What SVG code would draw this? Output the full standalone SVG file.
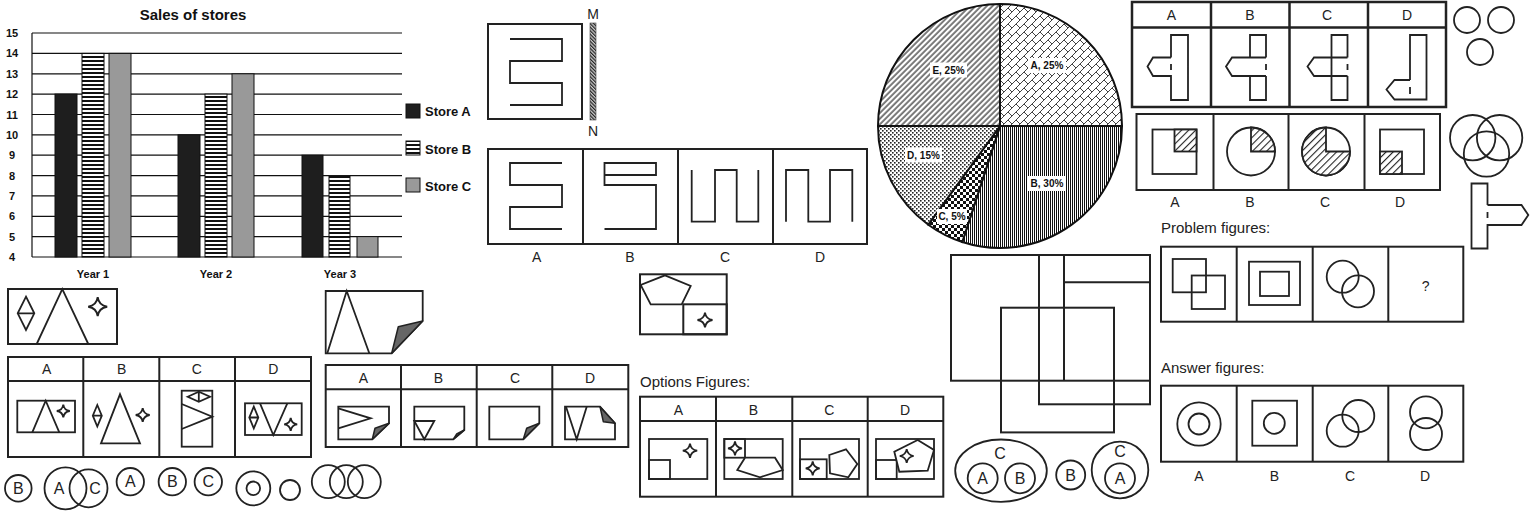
<svg xmlns="http://www.w3.org/2000/svg" width="1530" height="512" viewBox="0 0 1530 512">
<defs>
<style>
.ln{fill:none;stroke:#222;stroke-width:1.8;stroke-linejoin:miter}
.lw{fill:#fff;stroke:#222;stroke-width:1.8}
.bx{fill:none;stroke:#222;stroke-width:2}
.t{font-family:"Liberation Sans",Arial,sans-serif;fill:#222;text-anchor:middle;font-size:14px}
.tl{font-family:"Liberation Sans",Arial,sans-serif;fill:#222;font-size:15px}
.cl{font-family:"Liberation Sans",Arial,sans-serif;fill:#222;text-anchor:middle;font-size:16px}
.cb{font-family:"Liberation Sans",Arial,sans-serif;font-weight:bold;fill:#111}
.ax{font-family:"Liberation Sans",Arial,sans-serif;font-weight:bold;fill:#111;font-size:11px;text-anchor:middle}
.pl{font-family:"Liberation Sans",Arial,sans-serif;font-weight:bold;fill:#111;font-size:10px;text-anchor:middle}
.grid line{stroke:#111;stroke-width:1.2}
.fold{fill:#666;stroke:#222;stroke-width:1.5;stroke-linejoin:round}
</style>
<pattern id="hstripe" width="4" height="4" patternUnits="userSpaceOnUse"><rect width="4" height="4" fill="#fff"/><rect width="4" height="2" fill="#111"/></pattern>
<pattern id="pA" width="8" height="8" patternUnits="userSpaceOnUse"><rect width="8" height="8" fill="#fff"/><path d="M0,8 L8,0 M0,0 L4,4" stroke="#111" stroke-width="0.8"/></pattern>
<pattern id="pB" width="2" height="4" patternUnits="userSpaceOnUse"><rect width="2" height="4" fill="#fff"/><rect width="1" height="4" fill="#111"/></pattern>
<pattern id="pC" width="6" height="6" patternUnits="userSpaceOnUse"><rect width="6" height="6" fill="#fff"/><rect width="3" height="3" fill="#111"/><rect x="3" y="3" width="3" height="3" fill="#111"/></pattern>
<pattern id="pD" width="4" height="4" patternUnits="userSpaceOnUse"><rect width="4" height="4" fill="#fff"/><rect width="1.6" height="1.6" fill="#222"/><rect x="2" y="2" width="1.6" height="1.6" fill="#222"/></pattern>
<pattern id="pE" width="4" height="4" patternUnits="userSpaceOnUse" patternTransform="rotate(45)"><rect width="4" height="4" fill="#fff"/><rect x="1.5" width="1.1" height="4" fill="#111"/></pattern>
<pattern id="pM" width="2.5" height="2.5" patternUnits="userSpaceOnUse" patternTransform="rotate(-45)"><rect width="2.5" height="2.5" fill="#ccc"/><rect width="1.2" height="2.5" fill="#222"/></pattern>
<pattern id="hatch" width="5" height="5" patternUnits="userSpaceOnUse" patternTransform="rotate(45)"><rect width="5" height="5" fill="#fff"/><rect x="2" width="1.1" height="5" fill="#222"/></pattern>
<path id="star" d="M0,-10 Q1.2,-1.2 10,0 Q1.2,1.2 0,10 Q-1.2,1.2 -10,0 Q-1.2,-1.2 0,-10Z" fill="#fff" stroke="#222"/>
</defs>
<rect width="1530" height="512" fill="#fff"/>

<!-- Bar chart -->
<g id="bar-chart">
<text class="cb" x="193" y="20" font-size="15" text-anchor="middle">Sales of stores</text>
<g class="grid">
<line x1="32" y1="33" x2="402" y2="33"/>
<line x1="32" y1="53.4" x2="402" y2="53.4"/>
<line x1="32" y1="73.8" x2="402" y2="73.8"/>
<line x1="32" y1="94.1" x2="402" y2="94.1"/>
<line x1="32" y1="114.5" x2="402" y2="114.5"/>
<line x1="32" y1="134.8" x2="402" y2="134.8"/>
<line x1="32" y1="155.2" x2="402" y2="155.2"/>
<line x1="32" y1="175.6" x2="402" y2="175.6"/>
<line x1="32" y1="195.9" x2="402" y2="195.9"/>
<line x1="32" y1="216.3" x2="402" y2="216.3"/>
<line x1="32" y1="236.6" x2="402" y2="236.6"/>
<line x1="32" y1="257" x2="402" y2="257"/>
<line x1="32" y1="33" x2="32" y2="257"/>
</g>
<g>
<text class="ax" x="12" y="37">15</text>
<text class="ax" x="12" y="57.4">14</text>
<text class="ax" x="12" y="77.8">13</text>
<text class="ax" x="12" y="98.1">12</text>
<text class="ax" x="12" y="118.5">11</text>
<text class="ax" x="12" y="138.8">10</text>
<text class="ax" x="12" y="159.2">9</text>
<text class="ax" x="12" y="179.6">8</text>
<text class="ax" x="12" y="199.9">7</text>
<text class="ax" x="12" y="220.3">6</text>
<text class="ax" x="12" y="240.6">5</text>
<text class="ax" x="12" y="261">4</text>
</g>
<g stroke="#111" stroke-width="1">
<rect x="55" y="94.1" width="22" height="162.9" fill="#1e1e1e"/>
<rect x="82" y="53.4" width="22" height="203.6" fill="url(#hstripe)"/>
<rect x="109" y="53.4" width="22" height="203.6" fill="#999"/>
<rect x="178" y="134.8" width="22" height="122.2" fill="#1e1e1e"/>
<rect x="205" y="94.1" width="22" height="162.9" fill="url(#hstripe)"/>
<rect x="232" y="73.8" width="22" height="183.2" fill="#999"/>
<rect x="302" y="155.2" width="21" height="101.8" fill="#1e1e1e"/>
<rect x="329" y="175.6" width="21" height="81.4" fill="url(#hstripe)"/>
<rect x="357" y="236.6" width="21" height="20.4" fill="#999"/>
</g>
<text class="ax" x="93" y="278">Year 1</text>
<text class="ax" x="216" y="278">Year 2</text>
<text class="ax" x="340" y="278">Year 3</text>
<g id="legend">
<rect x="406" y="104" width="14" height="14" fill="#1e1e1e" stroke="#111"/>
<rect x="406" y="141" width="14" height="14" fill="url(#hstripe)" stroke="#111"/>
<rect x="406" y="178" width="14" height="14" fill="#999" stroke="#111"/>
<text class="cb" x="425" y="116" font-size="13">Store A</text>
<text class="cb" x="425" y="153.5" font-size="13">Store B</text>
<text class="cb" x="425" y="190.5" font-size="13">Store C</text>
</g>
</g>

<!-- Mirror figure -->
<g id="mirror-question">
<rect x="488" y="24" width="94" height="95" class="bx"/>
<polyline class="ln" points="510,39 562,39 562,61 510,61 510,83 562,83 562,105 510,105"/>
<rect x="590" y="23" width="6" height="97" fill="url(#pM)" stroke="#444" stroke-width="0.6"/>
<text class="t" x="593" y="19">M</text>
<text class="t" x="593" y="136">N</text>
</g>
<g id="mirror-options">
<rect x="488" y="149" width="379" height="95" class="bx"/>
<line x1="583" y1="149" x2="583" y2="244" class="bx"/>
<line x1="678" y1="149" x2="678" y2="244" class="bx"/>
<line x1="773" y1="149" x2="773" y2="244" class="bx"/>
<polyline class="ln" points="562,163 510,163 510,185 562,185 562,207 510,207 510,229 562,229"/>
<polyline class="ln" points="604.5,175 656,175 656,163 604.5,163 604.5,185 656,185 656,229 604.5,229"/>
<polyline class="ln" points="691.7,170 691.7,221.7 715,221.7 715,170 736.7,170 736.7,221.7 758.3,221.7 758.3,170"/>
<polyline class="ln" points="786,221.7 786,170 808.3,170 808.3,221.7 830,221.7 830,170 852.3,170 852.3,221.7"/>
<text class="t" x="536.7" y="262">A</text>
<text class="t" x="630" y="262">B</text>
<text class="t" x="725" y="262">C</text>
<text class="t" x="820" y="262">D</text>
</g>
<g id="pentagon-question">
<rect x="640" y="274.3" width="86.7" height="60" class="bx"/>
<rect x="683.3" y="304.3" width="43.4" height="30" class="bx"/>
<polygon class="ln" points="665,275.3 690.7,286 681.7,304.3 650.7,304.3 640.7,285"/>
<use href="#star" transform="translate(705,320) scale(0.75)" stroke-width="2.4"/>
</g>

<!-- Pie chart -->
<g id="pie-chart" stroke="#111" stroke-width="2">
<path d="M1000,126 L1000,4 A122,122 0 0 1 1122,126 Z" fill="url(#pA)"/>
<path d="M1000,126 L1122,126 A122,122 0 0 1 962.3,242 Z" fill="url(#pB)"/>
<path d="M1000,126 L962.3,242 A122,122 0 0 1 928.3,224.7 Z" fill="url(#pC)"/>
<path d="M1000,126 L928.3,224.7 A122,122 0 0 1 878,126 Z" fill="url(#pD)"/>
<path d="M1000,126 L878,126 A122,122 0 0 1 1000,4 Z" fill="url(#pE)"/>
</g>
<g id="pie-labels">
<rect x="1028" y="58" width="38" height="15" fill="#fff"/>
<text class="pl" x="1047" y="69.3">A, 25%</text>
<rect x="930" y="62.5" width="37" height="15" fill="#fff"/>
<text class="pl" x="948.5" y="73.8">E, 25%</text>
<rect x="905" y="147.5" width="37" height="15" fill="#fff"/>
<text class="pl" x="923.5" y="158.8">D, 15%</text>
<rect x="1028" y="176" width="38" height="15" fill="#fff"/>
<text class="pl" x="1047" y="187.3">B, 30%</text>
<rect x="937" y="209" width="30" height="15" fill="#fff"/>
<text class="pl" x="952" y="220.3">C, 5%</text>
</g>

<!-- T figures -->
<g id="t-options">
<rect x="1132" y="2" width="314" height="105" fill="none" stroke="#222" stroke-width="2.5"/>
<line x1="1132" y1="27.5" x2="1446" y2="27.5" stroke="#222" stroke-width="2.5"/>
<line x1="1211" y1="2" x2="1211" y2="107" stroke="#222" stroke-width="2.5"/>
<line x1="1289.5" y1="2" x2="1289.5" y2="107" stroke="#222" stroke-width="2.5"/>
<line x1="1368" y1="2" x2="1368" y2="107" stroke="#222" stroke-width="2.5"/>
<text class="t" x="1171.5" y="20">A</text>
<text class="t" x="1250" y="20">B</text>
<text class="t" x="1327" y="20">C</text>
<text class="t" x="1407" y="20">D</text>
<path class="ln" d="M1171,57.5 L1171,35 L1188,35 L1188,100 L1171,100 L1171,76 L1153,76 L1147.5,66.5 L1153,57.5 L1171,57.5 M1171,64 L1171,70"/>
<path class="ln" d="M1250,57.5 L1250,35 L1266,35 L1266,57.5 M1266,76 L1266,100 L1250,100 L1250,76 M1266,57.5 L1232,57.5 L1226,66.5 L1232,76 L1266,76 M1266,64 L1266,70"/>
<path class="ln" d="M1347.5,57.5 L1347.5,35 L1331.5,35 L1331.5,100 L1347.5,100 L1347.5,76 M1347.5,57.5 L1314,57.5 L1307.5,66.5 L1314,76 L1347.5,76 M1347.5,64 L1347.5,70"/>
<path class="ln" d="M1410,80 L1410,35 L1426.5,35 L1426.5,99.5 L1394.5,99.5 L1386.5,89.5 L1394.5,80 L1410,80 M1410,87 L1410,94"/>
</g>
<g id="three-circles" class="ln">
<circle cx="1467" cy="20" r="13"/>
<circle cx="1501" cy="20" r="13"/>
<circle cx="1480" cy="52" r="13"/>
</g>
<g id="shaded-options">
<rect x="1136.5" y="114" width="303.5" height="76" class="bx"/>
<line x1="1213.5" y1="114" x2="1213.5" y2="190" class="bx"/>
<line x1="1288.5" y1="114" x2="1288.5" y2="190" class="bx"/>
<line x1="1364.5" y1="114" x2="1364.5" y2="190" class="bx"/>
<rect x="1152.5" y="129.5" width="44" height="44.5" class="ln"/>
<rect x="1174.5" y="129.5" width="22" height="22" fill="url(#hatch)" stroke="#222" stroke-width="1.8"/>
<circle cx="1251" cy="151.5" r="24" class="ln"/>
<path d="M1251,151.5 L1251,127.5 A24,24 0 0 1 1275,151.5 Z" fill="url(#hatch)" stroke="#222" stroke-width="1.8"/>
<circle cx="1326" cy="151.5" r="24" class="ln"/>
<path d="M1326,151.5 L1350,151.5 A24,24 0 1 1 1326,127.5 Z" fill="url(#hatch)" stroke="#222" stroke-width="1.8"/>
<rect x="1380" y="129.5" width="44" height="44.5" class="ln"/>
<rect x="1380" y="151.5" width="22" height="22.5" fill="url(#hatch)" stroke="#222" stroke-width="1.8"/>
<text class="t" x="1175" y="207">A</text>
<text class="t" x="1250" y="207">B</text>
<text class="t" x="1325" y="207">C</text>
<text class="t" x="1400" y="207">D</text>
</g>
<g id="venn" class="ln">
<circle cx="1472.7" cy="137.7" r="22.7"/>
<circle cx="1499.6" cy="137.7" r="22.7"/>
<circle cx="1486.5" cy="154" r="22.7"/>
</g>
<g id="t-right">
<path class="ln" d="M1487.5,205 L1487.5,183.5 L1471.5,183.5 L1471.5,248.5 L1487.5,248.5 L1487.5,225 L1521.5,225 L1528.3,215 L1521.5,205 L1487.5,205 M1487.5,212 L1487.5,218"/>
</g>

<!-- Problem / Answer figures -->
<g id="problem-figures">
<text class="tl" x="1161" y="233">Problem figures:</text>
<rect x="1161" y="246.7" width="302.3" height="75" class="bx"/>
<line x1="1236.7" y1="246.7" x2="1236.7" y2="321.7" class="bx"/>
<line x1="1312.7" y1="246.7" x2="1312.7" y2="321.7" class="bx"/>
<line x1="1388.3" y1="246.7" x2="1388.3" y2="321.7" class="bx"/>
<rect x="1172.7" y="259" width="33.3" height="33.3" class="ln"/>
<rect x="1191.7" y="275.5" width="33.3" height="33.5" class="ln"/>
<rect x="1249" y="261.7" width="51" height="43.3" class="ln"/>
<rect x="1260" y="271.7" width="29" height="24.3" class="ln"/>
<circle cx="1342.7" cy="276.7" r="16" class="ln"/>
<circle cx="1358" cy="291.3" r="16" class="ln"/>
<text class="t" x="1425.7" y="290.7">?</text>
</g>
<g id="answer-figures">
<text class="tl" x="1161" y="373">Answer figures:</text>
<rect x="1161" y="385.7" width="302.3" height="76" class="bx"/>
<line x1="1236.7" y1="385.7" x2="1236.7" y2="461.7" class="bx"/>
<line x1="1312.7" y1="385.7" x2="1312.7" y2="461.7" class="bx"/>
<line x1="1388.3" y1="385.7" x2="1388.3" y2="461.7" class="bx"/>
<circle cx="1199" cy="424" r="21.7" class="ln"/>
<circle cx="1199" cy="424" r="10.5" class="ln"/>
<rect x="1252.3" y="400.7" width="44.7" height="45" class="ln"/>
<circle cx="1274.3" cy="423.3" r="10.5" class="ln"/>
<circle cx="1358.3" cy="416" r="16" class="ln"/>
<circle cx="1342.7" cy="430.7" r="16" class="ln"/>
<circle cx="1426" cy="412.3" r="16" class="ln"/>
<circle cx="1426" cy="434" r="16" class="ln"/>
<text class="t" x="1199" y="480.7">A</text>
<text class="t" x="1274.3" y="480.7">B</text>
<text class="t" x="1350" y="480.7">C</text>
<text class="t" x="1425" y="480.7">D</text>
</g>

<!-- Overlapping squares -->
<g id="squares-figure" class="bx">
<rect x="951" y="255" width="199" height="125.7"/>
<rect x="1039" y="255" width="111" height="149.3"/>
<line x1="1064" y1="255" x2="1064" y2="380.7"/>
<line x1="1064" y1="282.3" x2="1150" y2="282.3"/>
<rect x="1001" y="307.7" width="113" height="124.7"/>
</g>

<!-- Set diagrams -->
<g id="set-ellipse">
<ellipse cx="1001" cy="470.7" rx="45.8" ry="31.2" class="ln"/>
<text class="cl" x="1000" y="459">C</text>
<circle cx="982.7" cy="478.3" r="15" class="ln"/>
<text class="cl" x="982.7" y="484">A</text>
<circle cx="1020" cy="478.3" r="15" class="ln"/>
<text class="cl" x="1020" y="484">B</text>
</g>
<g id="set-b">
<circle cx="1070.7" cy="475" r="14.5" class="ln"/>
<text class="cl" x="1070.7" y="480.7">B</text>
</g>
<g id="set-ca">
<circle cx="1120" cy="470" r="28.3" class="ln"/>
<text class="cl" x="1120" y="456.7">C</text>
<circle cx="1120" cy="478.3" r="15" class="ln"/>
<text class="cl" x="1120" y="484">A</text>
</g>

<!-- Options Figures -->
<g id="options-figures">
<text class="tl" x="640" y="386.5">Options Figures:</text>
<rect x="640" y="396.7" width="303.3" height="100" class="bx"/>
<line x1="640" y1="421" x2="943.3" y2="421" class="bx"/>
<line x1="716" y1="396.7" x2="716" y2="496.7" class="bx"/>
<line x1="792.3" y1="396.7" x2="792.3" y2="496.7" class="bx"/>
<line x1="867.7" y1="396.7" x2="867.7" y2="496.7" class="bx"/>
<text class="t" x="678.3" y="415">A</text>
<text class="t" x="753.3" y="415">B</text>
<text class="t" x="829.3" y="415">C</text>
<text class="t" x="905" y="415">D</text>
<rect x="649" y="439" width="58.3" height="40" class="ln"/>
<rect x="649" y="460" width="21" height="19" class="ln"/>
<use href="#star" transform="translate(690,450.7) scale(0.72)" stroke-width="2.5"/>
<rect x="724.3" y="439" width="58.4" height="40" class="ln"/>
<rect x="724.3" y="439" width="20.7" height="18.7" class="ln"/>
<use href="#star" transform="translate(735,448.3) scale(0.7)" stroke-width="2.5"/>
<polygon class="lw" points="745,457.7 775,457.7 782.7,470 760,477.3 737.3,470"/>
<rect x="800" y="439" width="59" height="40" class="ln"/>
<rect x="800" y="459.3" width="26.7" height="19.7" class="ln"/>
<use href="#star" transform="translate(812.7,468.3) scale(0.7)" stroke-width="2.5"/>
<polygon class="lw" points="829.3,455 846,449.3 857.3,464 848.3,477.3 830,473.3"/>
<rect x="876" y="439" width="58" height="40" class="ln"/>
<rect x="876" y="460" width="20.7" height="19" class="ln"/>
<polygon class="lw" points="917.7,440 934,450 927.7,470.7 899.3,471.7 894.3,451.7"/>
<use href="#star" transform="translate(906.7,456) scale(0.7)" stroke-width="2.5"/>
</g>

<!-- Embedded figure question -->
<g id="embedded-question">
<rect x="8" y="289" width="109" height="55" class="bx"/>
<path class="ln" d="M26,296.7 L34.3,313.3 L26,330 L17.7,313.3 Z M17.7,313.3 L34.3,313.3"/>
<polyline class="ln" points="36.7,344 62.3,289 88.3,344"/>
<use href="#star" transform="translate(97.7,306.7) scale(0.95)" stroke-width="2"/>
</g>
<g id="embedded-options">
<rect x="8" y="357" width="303" height="100" class="bx"/>
<line x1="8" y1="381" x2="311" y2="381" class="bx"/>
<line x1="83.3" y1="357" x2="83.3" y2="457" class="bx"/>
<line x1="159.3" y1="357" x2="159.3" y2="457" class="bx"/>
<line x1="235" y1="357" x2="235" y2="457" class="bx"/>
<text class="t" x="46.7" y="374.3">A</text>
<text class="t" x="121.7" y="374.3">B</text>
<text class="t" x="196.7" y="374.3">C</text>
<text class="t" x="273.3" y="374.3">D</text>
<rect x="17.3" y="400.7" width="57.7" height="31.6" class="ln"/>
<polyline class="ln" points="32.3,432.3 45.7,400.7 59.3,432.3"/>
<use href="#star" transform="translate(63.3,411) scale(0.65)" stroke-width="2.8"/>
<path class="ln" d="M97.3,405 L101.8,415.7 L97.3,426.5 L92.8,415.7 Z M92.8,415.7 L101.8,415.7"/>
<polygon class="ln" points="101,443.3 120,394.3 140,443.3"/>
<use href="#star" transform="translate(142.7,415) scale(0.7)" stroke-width="2.6"/>
<rect x="181.7" y="390.7" width="30.6" height="56" class="ln"/>
<path class="ln" d="M187.7,396.7 L198.8,391.7 L210,396.7 L198.8,401.7 Z M198.8,391.7 L198.8,401.7"/>
<polyline class="ln" points="181.7,404 212.3,416.7 181.7,429"/>
<rect x="245" y="403.3" width="56.7" height="31.7" class="ln"/>
<path class="ln" d="M253.8,406.7 L258.3,417.5 L253.8,428.3 L249.3,417.5 Z M249.3,417.5 L258.3,417.5"/>
<polyline class="ln" points="260,403.3 273.3,435 287.3,403.3"/>
<use href="#star" transform="translate(290.7,424.3) scale(0.65)" stroke-width="2.8"/>
</g>

<!-- Circles row -->
<g id="circles-row">
<circle cx="18.3" cy="488.3" r="13.3" class="ln"/>
<text class="cl" x="18.3" y="494">B</text>
<circle cx="65.5" cy="488.3" r="21" class="ln"/>
<circle cx="88.5" cy="488.3" r="19" class="ln"/>
<text class="cl" x="59" y="494">A</text>
<text class="cl" x="95" y="494">C</text>
<circle cx="130.3" cy="481.7" r="13.7" class="ln"/>
<text class="cl" x="130.3" y="487.4">A</text>
<circle cx="172.3" cy="481.7" r="13.7" class="ln"/>
<text class="cl" x="172.3" y="487.4">B</text>
<circle cx="208.3" cy="481.7" r="13.7" class="ln"/>
<text class="cl" x="208.3" y="487.4">C</text>
<circle cx="253.3" cy="488.3" r="17" class="ln"/>
<circle cx="253.3" cy="488.3" r="6.8" class="ln"/>
<circle cx="290" cy="490" r="10" class="ln"/>
<circle cx="328.3" cy="481.7" r="16.5" class="ln"/>
<circle cx="346.3" cy="481.7" r="16.5" class="ln"/>
<circle cx="364.3" cy="481.7" r="16.5" class="ln"/>
</g>

<!-- Folded paper -->
<g id="paper-question">
<polygon class="lw" points="325.7,291 422.7,291 422.7,321 391.7,353.3 325.7,353.3"/>
<polygon class="fold" points="391.7,353.3 398.3,326.7 422.7,321"/>
<polyline class="ln" points="327.3,353.3 346.7,291 369.3,353.3"/>
</g>
<g id="paper-options">
<rect x="325.7" y="365" width="302.6" height="82" class="bx"/>
<line x1="325.7" y1="389.3" x2="628.3" y2="389.3" class="bx"/>
<line x1="401" y1="365" x2="401" y2="447" class="bx"/>
<line x1="476.7" y1="365" x2="476.7" y2="447" class="bx"/>
<line x1="552.3" y1="365" x2="552.3" y2="447" class="bx"/>
<text class="t" x="363.3" y="382.7">A</text>
<text class="t" x="438.3" y="382.7">B</text>
<text class="t" x="515" y="382.7">C</text>
<text class="t" x="590" y="382.7">D</text>
<polygon class="lw" points="338.3,406.7 389,406.7 389,423.3 372.3,439.3 338.3,439.3"/>
<polygon class="fold" points="372.3,439.3 375,428.3 389,423.3"/>
<polyline class="ln" points="338.3,408.3 370.7,418.3 338.3,428.3"/>
<polygon class="lw" points="414.3,406.7 464.3,406.7 464.3,430 453.3,439.3 414.3,439.3"/>
<polygon class="fold" points="453.3,439.3 456.7,434 464.3,430"/>
<polygon class="ln" points="414.3,421 434.3,421 424.3,439.3"/>
<polygon class="lw" points="489.3,406.7 539.3,406.7 539.3,423.3 523.3,439.3 489.3,439.3"/>
<polygon class="fold" points="523.3,439.3 526.7,428.3 539.3,423.3"/>
<polygon class="lw" points="565,406.7 600,406.7 615,423.3 615,439.3 565,439.3"/>
<polygon class="fold" points="600,406.7 603.3,421.7 615,423.3"/>
<polyline class="ln" points="566,406.7 576.7,439.3 586.7,406.7"/>
</g>
</svg>
